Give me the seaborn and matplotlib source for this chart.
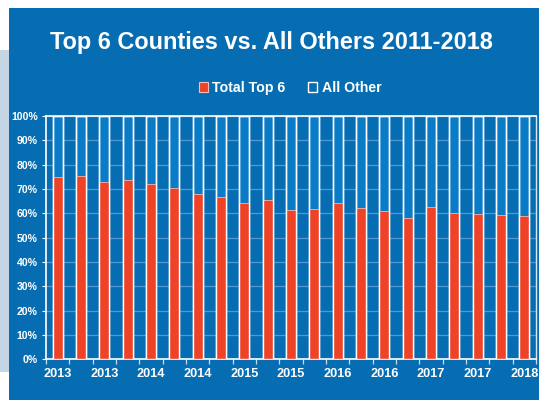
import matplotlib
matplotlib.use("Agg")
import matplotlib.pyplot as plt
from matplotlib.patches import Rectangle, Patch
import seaborn as sns
import pandas as pd

# ---- data ----
quarters = ["2013 Q1", "2013 Q2", "2013 Q3", "2013 Q4",
            "2014 Q1", "2014 Q2", "2014 Q3", "2014 Q4",
            "2015 Q1", "2015 Q2", "2015 Q3", "2015 Q4",
            "2016 Q1", "2016 Q2", "2016 Q3", "2016 Q4",
            "2017 Q1", "2017 Q2", "2017 Q3", "2017 Q4",
            "2018 Q1"]
total_top6 = [74.8, 75.4, 73.0, 73.9, 72.0, 70.3, 67.8, 66.6, 64.1, 65.4,
              61.3, 61.9, 64.1, 62.1, 60.8, 57.9, 62.7, 60.0, 59.8, 59.5, 59.0]
all_other = [100 - v for v in total_top6]
tick_labels = ["2013", "", "2013", "", "2014", "", "2014", "", "2015", "", "2015", "",
               "2016", "", "2016", "", "2017", "", "2017", "", "2018"]
title = "Top 6 Counties vs. All Others 2011-2018"
series_names = ["Total Top 6", "All Other"]

df = pd.DataFrame({"quarter": quarters, "top6": total_top6, "other": all_other})
df["stack"] = df["top6"] + df["other"]

# ---- styling ----
sns.set_theme(style="white")
plt.rcParams["font.family"] = ["Liberation Sans", "DejaVu Sans"]

BG = "#066db3"
RED = "#ee4327"
OTHER_FILL = "#0a7bc6"
GRID = "#4f98d0"

fig = plt.figure(figsize=(5.39, 4.0), dpi=100)
fig.patch.set_facecolor("white")
fig.patches.append(Rectangle((0, 0.07), 9 / 539, 0.805, transform=fig.transFigure,
                             facecolor="#c4d6e3", edgecolor="none", zorder=-10))
fig.patches.append(Rectangle((9 / 539, 0), 1 - 9 / 539, 392 / 400, transform=fig.transFigure,
                             facecolor=BG, edgecolor="none", zorder=-10))

ax = fig.add_axes([46 / 539, 40.7 / 400, 490 / 539, 243.3 / 400])
ax.set_facecolor("none")
ax.set_zorder(5)

w = 0.43
sns.barplot(data=df, x="quarter", y="stack", color=OTHER_FILL, width=w,
            edgecolor="white", linewidth=1.0, saturation=1, ax=ax, zorder=2)
sns.barplot(data=df, x="quarter", y="top6", color=RED, width=w,
            edgecolor="#f3b3a8", linewidth=0.6, saturation=1, ax=ax, zorder=3)
# white side outline above red
sns.barplot(data=df, x="quarter", y="stack", fill=False, width=w,
            edgecolor="white", linewidth=1.0, ax=ax, zorder=4)

ax.set_xlim(-0.5, len(quarters) - 0.5)
ax.set_ylim(0, 100)
ax.set_yticks(range(0, 101, 10))
ax.set_yticklabels([f"{v}%" for v in range(0, 101, 10)])
ax.set_xticks(range(len(quarters)))
ax.set_xticklabels(tick_labels)
ax.set_xlabel("")
ax.set_ylabel("")
ax.yaxis.grid(True, color=GRID, linewidth=0.9, zorder=1)
ax.set_axisbelow(True)

for s in ["left", "bottom", "top"]:
    ax.spines[s].set_visible(True)
    ax.spines[s].set_color("white")
    ax.spines[s].set_linewidth(1.2)
ax.spines["right"].set_visible(True)
ax.spines["right"].set_color("#d8e6f2")
ax.spines["right"].set_linewidth(1.0)

ax.tick_params(axis="y", colors="white", labelsize=7.6, length=3, width=0.8, pad=3,
               direction="out", left=True)
ax.tick_params(axis="x", colors="white", labelsize=9.2, length=0, pad=6)
for lab in ax.get_xticklabels() + ax.get_yticklabels():
    lab.set_fontweight("bold")
    lab.set_color("white")

# minor ticks between categories on x axis
ax.set_xticks([i - 0.5 for i in range(len(quarters) + 1)], minor=True)
ax.tick_params(axis="x", which="minor", colors="#c8dcee", length=3.5, width=0.9,
               direction="out", bottom=True)

fig.text(0.504, 0.893, title, ha="center", va="center", color="white",
         fontsize=16.9, fontweight="bold")

handles = [Patch(facecolor=RED, edgecolor="#f3c0b6", linewidth=0.8),
           Patch(facecolor=BG, edgecolor="white", linewidth=1.0)]
fig.legend(handles, series_names, loc="center", bbox_to_anchor=(0.538, 0.78),
           ncol=2, frameon=False, handlelength=0.65, handleheight=0.65,
           handletextpad=0.3, columnspacing=1.6,
           prop={"weight": "bold", "size": 10.2}, labelcolor="white")

fig.savefig("out.png", dpi=100, facecolor=fig.get_facecolor())
